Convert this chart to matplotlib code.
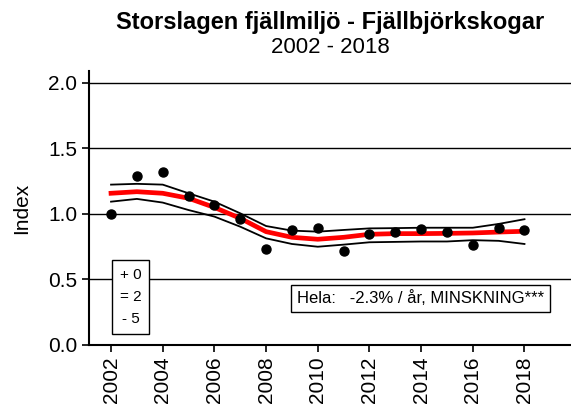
import matplotlib
matplotlib.use("Agg")
import matplotlib.pyplot as plt

plt.rcParams['font.family'] = ['Liberation Sans', 'DejaVu Sans']

years = list(range(2002, 2019))
index_obs = [1.00, 1.29, 1.32, 1.14, 1.07, 0.96, 0.73, 0.88, 0.895, 0.715,
             0.85, 0.865, 0.885, 0.865, 0.76, 0.895, 0.875]
trend = [1.158, 1.17, 1.158, 1.12, 1.05, 0.967, 0.865, 0.822, 0.807, 0.822,
         0.845, 0.85, 0.85, 0.852, 0.855, 0.862, 0.868]
upper = [1.224, 1.23, 1.224, 1.158, 1.094, 1.005, 0.908, 0.873, 0.865, 0.878,
         0.89, 0.892, 0.895, 0.895, 0.895, 0.924, 0.96]
lower = [1.094, 1.115, 1.087, 1.03, 0.98, 0.903, 0.814, 0.771, 0.75, 0.766,
         0.784, 0.787, 0.79, 0.79, 0.80, 0.795, 0.771]

xticks = list(range(2002, 2019, 2))
yticks = [0.0, 0.5, 1.0, 1.5, 2.0]

fig = plt.figure(figsize=(5.71, 4.09), dpi=100)
ax = fig.add_axes([0.156, 0.1565, 0.844, 0.6695])

for y in yticks[1:]:
    ax.axhline(y, color='black', lw=1.0, zorder=1)

ax.plot(years, upper, color='black', lw=1.3, zorder=2)
ax.plot(years, lower, color='black', lw=1.3, zorder=2)
ax.plot(years, trend, color='red', lw=3.4, zorder=3)
ax.plot(years, index_obs, 'o', color='black', ms=6.5, zorder=4)

ax.set_xlim(2001.15, 2019.8)
ax.set_ylim(0, 2.09)
ax.set_xticks(xticks)
ax.set_xticklabels([str(x) for x in xticks], rotation=90, fontsize=15)
ax.set_yticks(yticks)
ax.set_yticklabels(['%.1f' % v for v in yticks], fontsize=15)
ax.tick_params(direction='out', length=5, width=1.2, color='black')
ax.set_ylabel('Index', fontsize=15)
ax.yaxis.set_label_coords(-0.12, 0.5)

for s in ['top', 'right']:
    ax.spines[s].set_visible(False)
for s in ['left', 'bottom']:
    ax.spines[s].set_linewidth(1.5)

ax.text(2002.75, 0.366, '+ 0\n= 2\n- 5', fontsize=11, ha='center', va='center',
        linespacing=1.75,
        bbox=dict(boxstyle='square,pad=0.5', fc='white', ec='black', lw=1))
ax.text(2009.2, 0.355, 'Hela:   -2.3% / år, MINSKNING***', fontsize=12,
        ha='left', va='center',
        bbox=dict(boxstyle='square,pad=0.35', fc='white', ec='black', lw=1))

fig.text(0.578, 0.945, 'Storslagen fjällmiljö - Fjällbjörkskogar',
         fontsize=17, fontweight='bold', ha='center', va='center')
fig.text(0.578, 0.885, '2002 - 2018', fontsize=16, ha='center', va='center')

fig.savefig('out.png', dpi=100)
